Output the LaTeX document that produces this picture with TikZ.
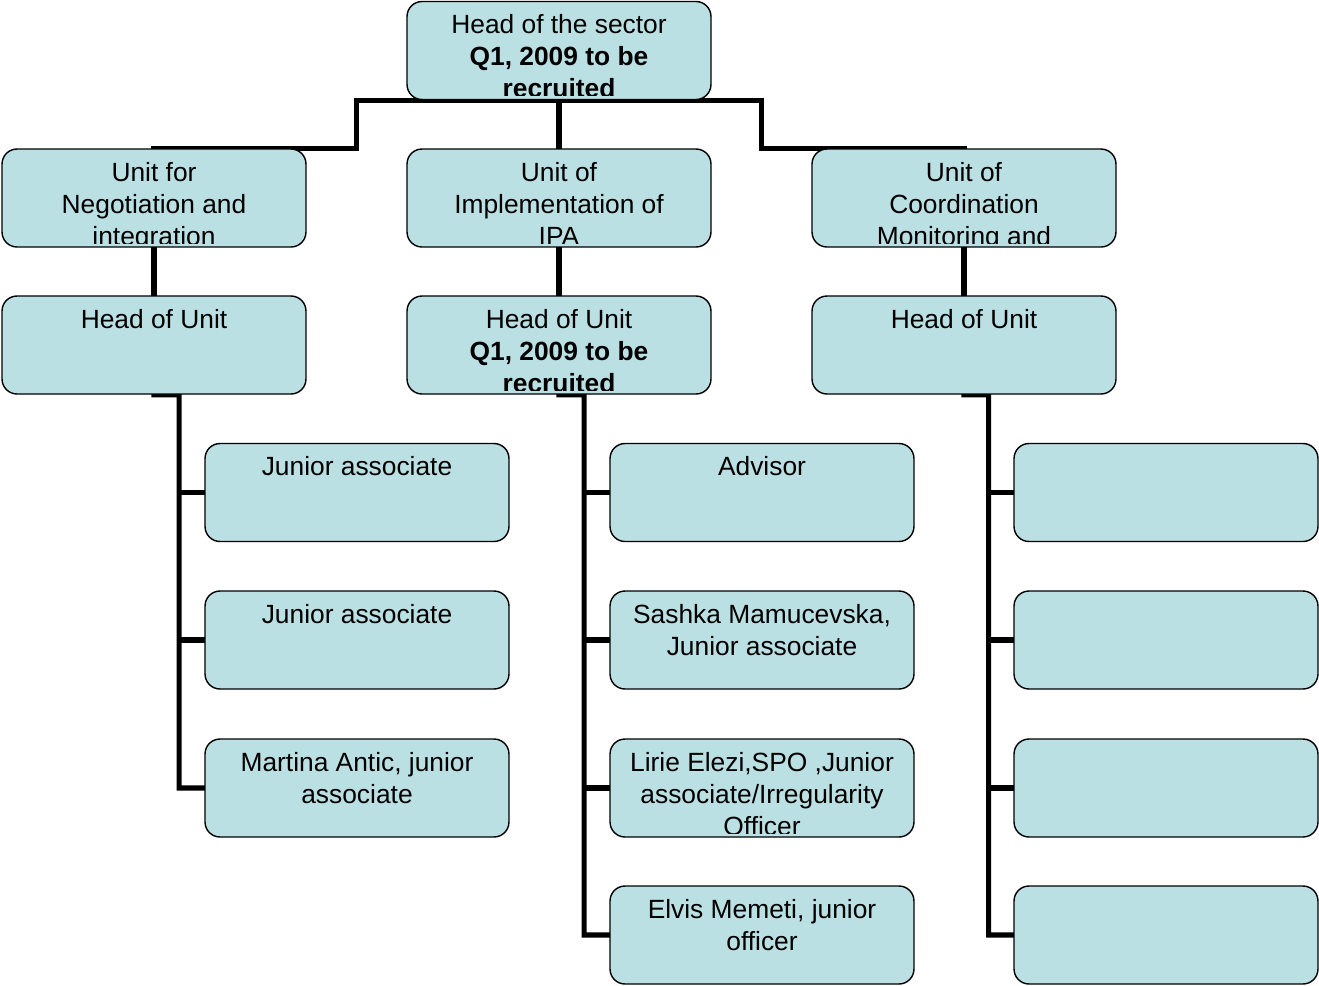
\documentclass[tikz,border=0pt]{standalone}
\usepackage{fontspec}
\setmainfont{Liberation Sans}
\usepackage{xcolor}
\usepackage{tikz}
\usetikzlibrary{
  positioning,
  calc,
  backgrounds
}

\definecolor{boxfill}{RGB}{187,224,227}

\tikzset{
  orgbox/.style={draw=black, line width=0.8pt, fill=boxfill, rounded corners=0.3cm,
    minimum width=6.08cm, minimum height=1.96cm, inner sep=0pt},
  boxtext/.style={anchor=north, align=center, inner sep=0pt,
    font=\fontsize{15}{18.2}\selectfont},
  conn/.style={line width=2.9pt, line cap=rect}
}

% box with its text cut off just above the border
\newcommand{\orgbox}[3]{%
  \node[orgbox] (#1) at (#2) {};
  \begin{scope}
    \clip ([yshift=0.09cm]#1.south west) rectangle (#1.north east);
    \node[boxtext] (#1-t) at ([yshift=-0.27cm]#1.north) {#3};
  \end{scope}}

\begin{document}
\begin{tikzpicture}[x=0.02cm,y=-0.02cm]
  \useasboundingbox (0,0) rectangle (1319,985);

  % sector and units
  \orgbox{sector}{559,50.5}{Head of the sector\\\textbf{Q1, 2009 to be}\\\textbf{recruited}}
  \orgbox{neg}{154,198}{Unit for\\Negotiation and\\integration}
  \orgbox{ipa}{559,198}{Unit of\\Implementation of\\IPA}
  \orgbox{coord}{964,198}{Unit of\\Coordination\\Monitoring and}

  \orgbox{hneg}{154,345}{Head of Unit}
  \orgbox{hipa}{559,345}{Head of Unit\\\textbf{Q1, 2009 to be}\\\textbf{recruited}}
  \orgbox{hcoord}{964,345}{Head of Unit}

  % staff
  \orgbox{neg1}{357,492.5}{Junior associate}
  \orgbox{neg2}{357,640}{Junior associate}
  \orgbox{neg3}{357,788}{Martina Antic, junior\\associate}

  \orgbox{ipa1}{762,492.5}{Advisor}
  \orgbox{ipa2}{762,640}{Sashka Mamucevska,\\Junior associate}
  \orgbox{ipa3}{762,788}{Lirie Elezi,SPO ,Junior\\associate/Irregularity\\Officer}
  \orgbox{ipa4}{762,935}{Elvis Memeti, junior\\officer}

  \foreach \k/\y in {1/492.5,2/640,3/788,4/935}
    \orgbox{coord\k}{1166,\y}{};

  \begin{scope}[on background layer]
  % top level lines
  \coordinate (mleft) at ($(neg.north)!.5!(ipa.north)$);
  \coordinate (mright) at ($(ipa.north)!.5!(coord.north)$);
  \draw[conn] (neg.north) -- (mleft) |- (sector.south);
  \draw[conn] (coord.north) -- (mright) |- (sector.south);
  \draw[conn] (sector.south) -- (ipa.north);

  \draw[conn] (neg.south) -- (hneg.north);
  \draw[conn] (ipa.south) -- (hipa.north);
  \draw[conn] (coord.south) -- (hcoord.north);

  % staff lines
  \coordinate (bneg) at ($(hneg.south)!.5!(hneg.south -| neg1.west)$);
  \draw[conn] (hneg.south) -- (bneg) |- (neg3.west);
  \foreach \k in {1,2}
    \draw[conn] (bneg |- neg\k.west) -- (neg\k.west);

  \coordinate (bipa) at ($(hipa.south)!.5!(hipa.south -| ipa1.west)$);
  \draw[conn] (hipa.south) -- (bipa) |- (ipa4.west);
  \foreach \k in {1,2,3}
    \draw[conn] (bipa |- ipa\k.west) -- (ipa\k.west);

  \coordinate (bcoord) at ($(hcoord.south)!.5!(hcoord.south -| coord1.west)$);
  \draw[conn] (hcoord.south) -- (bcoord) |- (coord4.west);
  \foreach \k in {1,2,3}
    \draw[conn] (bcoord |- coord\k.west) -- (coord\k.west);
  \end{scope}
\end{tikzpicture}
\end{document}
